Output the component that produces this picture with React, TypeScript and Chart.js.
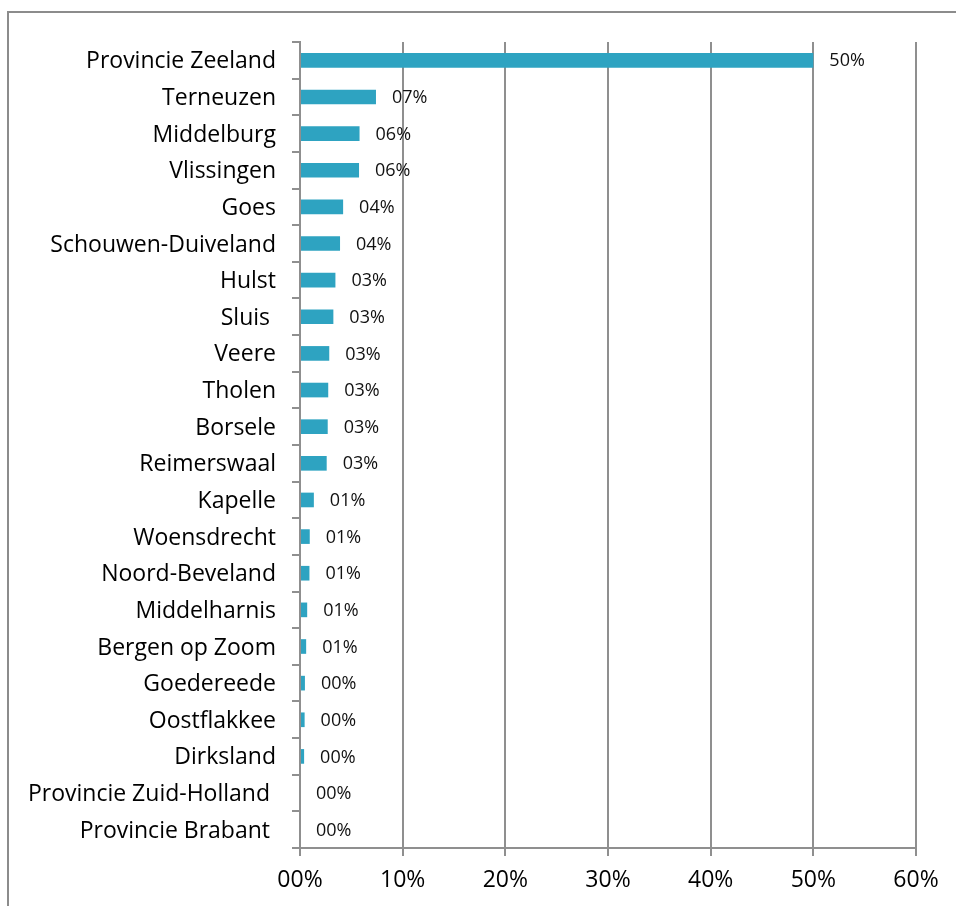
import React, { useEffect, useRef } from "react";
import { Chart, registerables } from "chart.js";

Chart.register(...registerables);

const categories = [
  "Provincie Zeeland",
  "Terneuzen",
  "Middelburg",
  "Vlissingen",
  "Goes",
  "Schouwen-Duiveland",
  "Hulst",
  "Sluis ",
  "Veere",
  "Tholen",
  "Borsele",
  "Reimerswaal",
  "Kapelle",
  "Woensdrecht",
  "Noord-Beveland",
  "Middelharnis",
  "Bergen op Zoom",
  "Goedereede",
  "Oostflakkee",
  "Dirksland",
  "Provincie Zuid-Holland ",
  "Provincie Brabant ",
];

// percentages
const shares = [
  50.0, 7.4, 5.8, 5.75, 4.2, 3.9, 3.45, 3.25, 2.85, 2.75, 2.7, 2.6, 1.35, 0.95,
  0.92, 0.7, 0.6, 0.48, 0.45, 0.4, 0, 0,
];

const xMin = 0;
const xMax = 60;
const xStep = 10;

const fmt = (v: number) => String(Math.round(v)).padStart(2, "0") + "%";

const FONT = "'Open Sans'";
const GRID = "#8f8f8f";

const labelPlugin = {
  id: "barLabels",
  afterDatasetsDraw(chart: any) {
    const ctx = chart.ctx;
    const meta = chart.getDatasetMeta(0);
    ctx.save();
    ctx.font = `18px ${FONT}`;
    ctx.fillStyle = "#111";
    ctx.textAlign = "left";
    ctx.textBaseline = "middle";
    meta.data.forEach((el: any, i: number) => {
      ctx.fillText(fmt(shares[i]), el.x + 16, el.y + 1);
    });
    ctx.restore();
  },
};

export default function App() {
  const ref = useRef<HTMLCanvasElement | null>(null);
  useEffect(() => {
    if (!ref.current) return;
    const chart = new Chart(ref.current, {
      type: "bar",
      data: {
        labels: categories,
        datasets: [
          {
            data: shares,
            backgroundColor: "#2ea3c1",
            barPercentage: 0.4,
            categoryPercentage: 1,
          },
        ],
      },
      plugins: [labelPlugin],
      options: {
        indexAxis: "y",
        responsive: false,
        animation: false,
        layout: { padding: { left: 0, right: 40, top: 42, bottom: 0 } },
        plugins: {
          legend: { display: false },
          tooltip: { enabled: false },
        },
        scales: {
          y: {
            afterFit(scale: any) {
              scale.width = 300;
            },
            grid: {
              drawOnChartArea: false,
              drawTicks: true,
              tickLength: 8,
              offset: true,
              color: GRID,
              lineWidth: 2,
            },
            border: { display: true, color: GRID, width: 2 },
            ticks: {
              padding: 16,
              labelOffset: 1.5,
              color: "#000",
              font: { family: FONT, size: 23 },
            },
          },
          x: {
            min: xMin,
            max: xMax,
            afterFit(scale: any) {
              scale.height = 58;
            },
            grid: {
              drawOnChartArea: true,
              drawTicks: true,
              tickLength: 8,
              color: GRID,
              lineWidth: 2,
            },
            border: { display: true, color: GRID, width: 2 },
            ticks: {
              stepSize: xStep,
              padding: 11,
              color: "#000",
              font: { family: FONT, size: 23 },
              callback: (v: any) => fmt(Number(v)),
            },
          },
        },
      },
    });
    return () => chart.destroy();
  }, []);

  return (
    <div
      style={{
        position: "fixed",
        left: 0,
        top: 0,
        width: 956,
        height: 906,
        overflow: "hidden",
        background: "#fff",
      }}
    >
      <div
        style={{
          position: "absolute",
          left: 7,
          top: 11,
          width: 2000,
          height: 2000,
          borderLeft: "2px solid #8c8c8c",
          borderTop: "2px solid #8c8c8c",
        }}
      />
      <canvas
        ref={ref}
        width={956}
        height={906}
        style={{ position: "absolute", left: 0, top: 0, width: 956, height: 906 }}
      />
    </div>
  );
}
